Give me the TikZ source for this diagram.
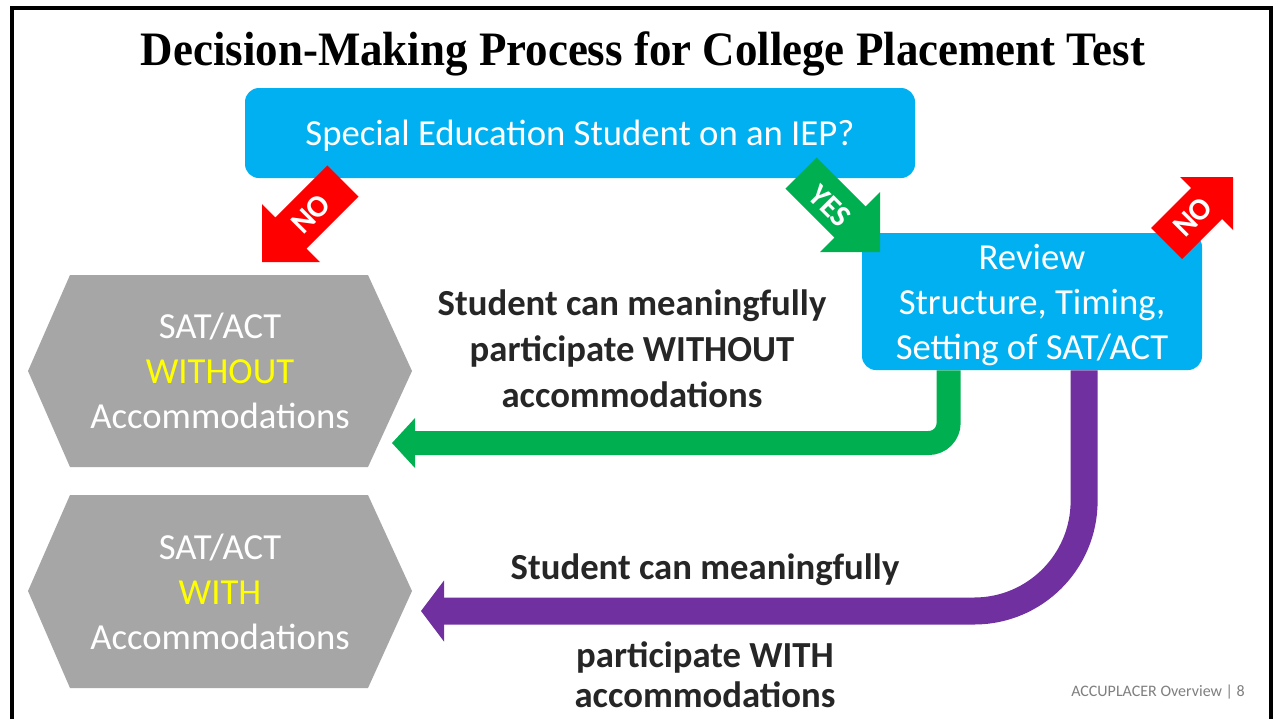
\documentclass[tikz,border=0pt]{standalone}
\usepackage{fontspec}
\setmainfont{Liberation Serif}
\newfontfamily\carlito{Carlito}
\usetikzlibrary{calc}
\definecolor{skyb}{HTML}{00B0F0}
\definecolor{hexgray}{HTML}{A6A6A6}
\definecolor{okgreen}{HTML}{00B050}
\definecolor{purp}{HTML}{7030A0}
\definecolor{nored}{HTML}{FF0000}
\definecolor{yel}{HTML}{FFFF00}
\definecolor{txt}{HTML}{262626}
\definecolor{foot}{HTML}{7F7F7F}
\begin{document}
\begin{tikzpicture}[x=0.5pt,y=-0.5pt,
  bluebox/.style={fill=skyb, rounded corners=7pt, text=white, align=center, inner sep=0pt,
    text depth=0pt, font=\carlito\fontsize{18.35pt}{22.5pt}\selectfont},
  hextext/.style={text=white, align=center, inner sep=0pt,
    font=\carlito\fontsize{18.35pt}{22.5pt}\selectfont},
  lbl/.style={text=txt, align=center, inner sep=0pt,
    font=\carlito\bfseries\fontsize{18.35pt}{23pt}\selectfont},
  arrowlbl/.style={text=white, inner sep=0pt,
    font=\carlito\bfseries\fontsize{15.5pt}{15.5pt}\selectfont},
  hexfill/.style={fill=hexgray},
  gline/.style={draw=okgreen, line width=12pt, rounded corners=10pt},
  pline/.style={draw=purp, line width=13.5pt, rounded corners=55pt},
  frame/.style={line width=2pt, draw=black}
]
\useasboundingbox (0,0) rectangle (1277,719);
\fill[white] (0,0) rectangle (1277,719);
\draw[frame] (12,719) -- (12,8) -- (1271,8) -- (1271,719);

% title
\node (title) at (643,54) {\resizebox{502pt}{\height}{\fontsize{24pt}{28pt}\selectfont\bfseries Decision-Making Process for College Placement Test}};

% hexagons
\fill[hexfill] (28,371) -- (70,275) -- (368,275) -- (412,371) -- (368,467) -- (70,467) -- cycle;
\node[hextext] (hexA) at (220,371) {SAT/ACT\\\textcolor{yel}{WITHOUT}\\Accommodations};
\fill[hexfill] (28,591) -- (70,495) -- (368,495) -- (412,591) -- (368,688) -- (70,688) -- cycle;
\node[hextext] (hexB) at (220,592) {SAT/ACT\\\textcolor{yel}{WITH}\\Accommodations};

% blue boxes
\node[bluebox, minimum width=335pt, minimum height=45pt] (q) at (580,133) {Special Education Student on an IEP?};
\node[bluebox, minimum width=170pt, minimum height=68.5pt] (rev) at (1032,301.5) {Review\\Structure, Timing,\\Setting of SAT/ACT};

% green connector (without accommodations)
\coordinate (gHead) at (415,443);
\draw[gline] ($(rev.south west)+(87,0)$) |- (gHead);
\fill[okgreen] (415,418) -- (392,443) -- (415,468) -- cycle;

% purple connector (with accommodations)
\coordinate (pHead) at (444,611);
\draw[pline] ($(rev.south west)+(222.5,0)$) |- (pHead);
\fill[purp] (444,580.5) -- (421,611) -- (444,641.5) -- cycle;

% labels
\node[lbl] (lblA) at (632,349) {Student can meaningfully\\participate WITHOUT\\accommodations};
\node[lbl] (lblB1) at (705,570) {Student can meaningfully};
\node[lbl, font=\carlito\bfseries\fontsize{18.35pt}{20pt}\selectfont] (lblB2) at (705,675) {participate WITH\\accommodations};

% NO arrow (left, down-left)
\fill[nored] (327.4,165.4) -- (275.4,217.4) -- (262,204) -- (262,262) -- (320,262) -- (306.6,248.6) -- (358.6,196.6) -- cycle;
\node[arrowlbl, rotate=45] (noL) at (311,214) {NO};

% YES arrow (down-right)
\fill[okgreen] (816.6,157.4) -- (865.6,206.4) -- (880,192) -- (880,252) -- (820,252) -- (834.4,237.6) -- (785.4,188.6) -- cycle;
\node[arrowlbl, rotate=-45] (yes) at (830,206) {YES};

% NO arrow (right, up-right)
\fill[nored] (1151,228) -- (1191,188) -- (1180,177) -- (1233,177) -- (1233,230) -- (1222,219) -- (1182,259) -- cycle;
\node[arrowlbl, rotate=45] (noR) at (1193,217) {NO};

% footer
\node[text=foot, font=\carlito\fontsize{8pt}{9pt}\selectfont, inner sep=0pt] (footer) at (1158,692) {ACCUPLACER Overview | 8};
\end{tikzpicture}
\end{document}
